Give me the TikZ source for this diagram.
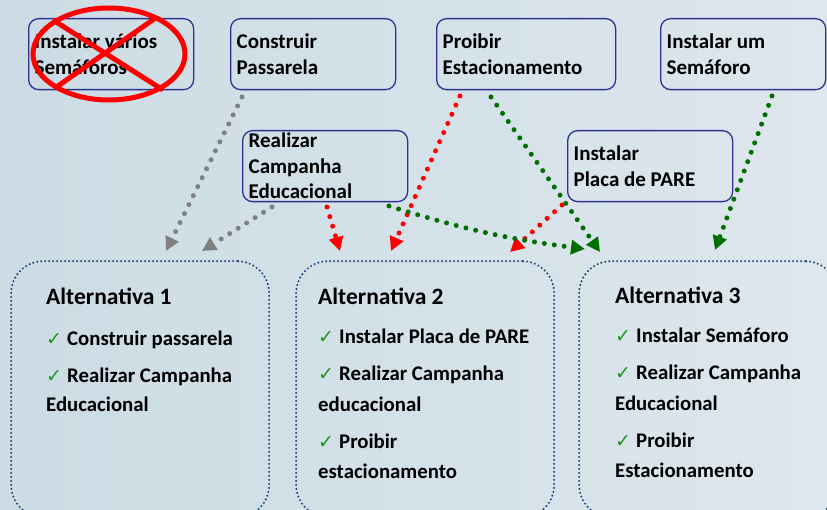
\documentclass[tikz,border=0pt]{standalone}
\usepackage{fontspec}
\setmainfont{Carlito}
\newfontfamily\djv{DejaVu Sans}
\usetikzlibrary{arrows.meta,calc}
\definecolor{boxblue}{RGB}{46,49,146}
\definecolor{altblue}{RGB}{31,73,125}
\definecolor{arrgray}{RGB}{128,128,128}
\definecolor{arrred}{RGB}{255,0,0}
\definecolor{arrgreen}{RGB}{0,110,0}
\definecolor{chk}{RGB}{30,150,30}
\definecolor{bgA}{RGB}{168,190,204}
\definecolor{bgB}{RGB}{198,214,224}
\definecolor{bgC}{RGB}{212,225,232}
\definecolor{bgD}{RGB}{231,237,241}
\pgfdeclarehorizontalshading{bgshade}{100bp}{color(0bp)=(bgA); color(4bp)=(bgB); color(50bp)=(bgC); color(100bp)=(bgD)}
\newcommand{\chkm}{\makebox[21pt][l]{\djv\fontsize{19}{19}\selectfont\color{chk}✓}}
\tikzset{
  topbox/.style={draw=boxblue, line width=1.3pt, rounded corners=10pt, anchor=north west,
    minimum width=165pt, minimum height=71pt, inner xsep=6pt, inner ysep=0pt,
    text width=153pt, align=flush left, font=\fontsize{21}{25.5}\selectfont\bfseries},
  altbox/.style={draw=altblue, line width=2.3pt, line cap=round, dash pattern=on 0pt off 4pt,
    rounded corners=32pt, anchor=north west, minimum width=258pt, minimum height=256pt, inner sep=0pt},
  althead/.style={anchor=base west, inner sep=0pt, font=\fontsize{23.5}{23.5}\selectfont\bfseries},
  altitem/.style={anchor=base west, inner sep=0pt, font=\fontsize{20.8}{20.8}\selectfont\bfseries},
  arr/.style={line width=5pt, line cap=round, dash pattern=on 0pt off 10pt,
    -{Triangle[length=14pt,width=14pt]}},
}
\begin{document}
\begin{tikzpicture}[x=1pt,y=-1pt]
\shade[shading=bgshade] (0,0) rectangle (827,510);
\useasboundingbox (0,0) rectangle (827,510);

% top boxes
\node[topbox] (b1) at (28,18) {Instalar vários\\Semáforos};
\node[topbox] (b2) at (230,18) {Construir\\Passarela};
\node[topbox, minimum width=179pt, text width=167pt] (b3) at (436,18) {Proibir\\Estacionamento};
\node[topbox] (b4) at (660,18) {Instalar um\\Semáforo};
\node[topbox] (b5) at (242,130) {Realizar\\Campanha\\Educacional};
\node[topbox] (b6) at (567,130) {Instalar\\Placa de PARE};

% crossed out
\draw[arrred, line width=5pt] (109,54) ellipse [x radius=76, y radius=46];
\draw[arrred, line width=5pt] (53,20) -- (163,90);
\draw[arrred, line width=5pt] (157,17) -- (55,88);

% alternative boxes
\node[altbox] (alt1) at (10,260) {};
\node[altbox] (alt2) at (295,260) {};
\node[altbox] (alt3) at (578,260) {};

\node[althead] (a1h) at (46,305) {Alternativa 1};
\node[altitem] (a1i1) at (46,345) {\chkm Construir passarela};
\node[altitem] (a1i2) at (46,382) {\chkm Realizar Campanha};
\node[altitem] (a1i3) at (46,411) {Educacional};

\node[althead] (a2h) at (318,305) {Alternativa 2};
\node[altitem] (a2i1) at (318,344) {\chkm Instalar Placa de PARE};
\node[altitem] (a2i2) at (318,381) {\chkm Realizar Campanha};
\node[altitem] (a2i3) at (318,411) {educacional};
\node[altitem] (a2i4) at (318,448) {\chkm Proibir};
\node[altitem] (a2i5) at (318,478) {estacionamento};

\node[althead] (a3h) at (615,304) {Alternativa 3};
\node[altitem] (a3i1) at (615,343) {\chkm Instalar Semáforo};
\node[altitem] (a3i2) at (615,380) {\chkm Realizar Campanha};
\node[altitem] (a3i3) at (615,410) {Educacional};
\node[altitem] (a3i4) at (615,447) {\chkm Proibir};
\node[altitem] (a3i5) at (615,477) {Estacionamento};

% connector ends
\coordinate (s1) at (242,97);   \coordinate (e1) at (166,251);
\coordinate (s2) at (272,207);  \coordinate (e2) at (202,251);
\coordinate (s3) at (327,207);  \coordinate (e3) at (340,251);
\coordinate (s4) at (460,96);   \coordinate (e4) at (391,251);
\coordinate (s5) at (562,205);  \coordinate (e5) at (510,252);
\coordinate (s6) at (491,97);   \coordinate (e6) at (600,252);
\coordinate (s7) at (389,206);  \coordinate (e7) at (585,249);
\coordinate (s8) at (772,96);   \coordinate (e8) at (715,250);

\draw[arr, arrgray] (s1) -- (e1);
\draw[arr, arrgray] (s2) -- (e2);
\draw[arr, arrred] (s3) -- (e3);
\draw[arr, arrred] (s4) -- (e4);
\draw[arr, arrred] (s5) -- (e5);
\draw[arr, arrgreen] (s6) -- (e6);
\draw[arr, arrgreen] (s7) to[bend right=5] (e7);
\draw[arr, arrgreen] (s8) -- (e8);
\end{tikzpicture}
\end{document}
